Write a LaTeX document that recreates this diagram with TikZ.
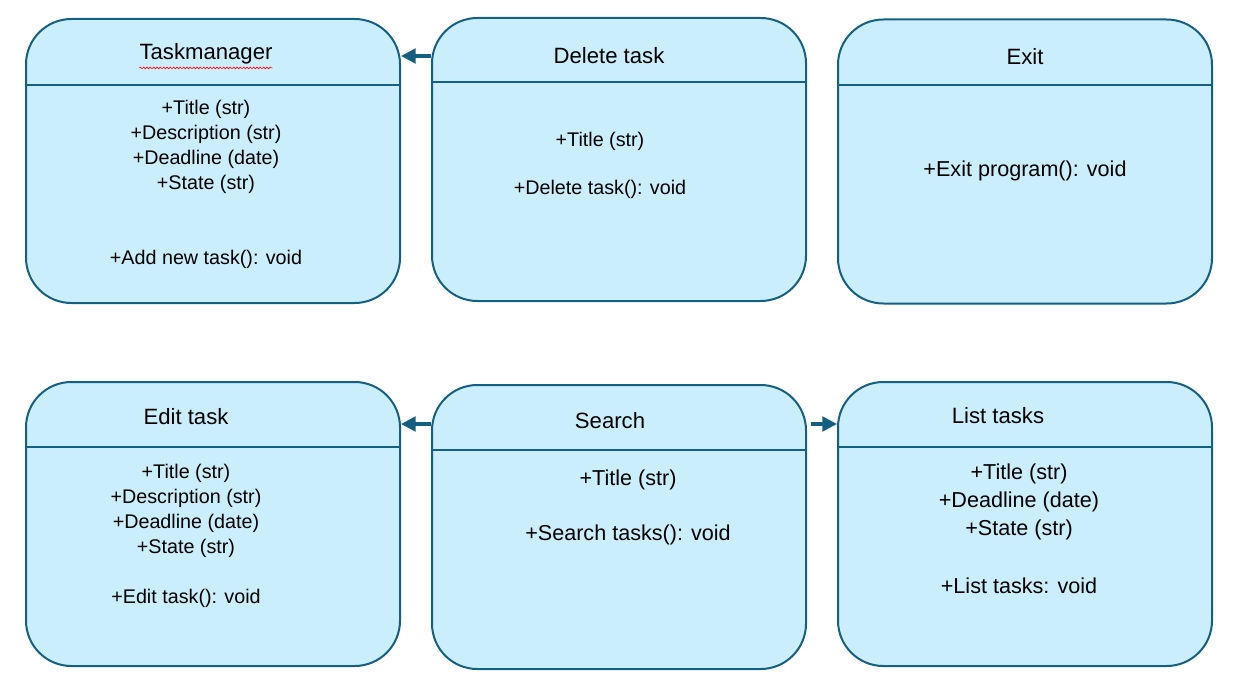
\documentclass[tikz,border=0pt]{standalone}
\usepackage{fontspec}
\setmainfont{Liberation Sans}
\usetikzlibrary{arrows.meta,decorations.pathmorphing}
\definecolor{boxfill}{HTML}{CAEEFB}
\definecolor{boxline}{HTML}{156082}
\begin{document}
\begin{tikzpicture}[x=0.75pt,y=-0.75pt,
  ubox/.style={draw=boxline,fill=boxfill,line width=1.5pt,rounded corners=34pt,
    minimum width=280.5pt,minimum height=213pt,inner sep=0pt},
  hline/.style={draw=boxline,line width=1.5pt},
  ttl/.style={font=\fontsize{16.6}{19}\selectfont,inner sep=0pt,anchor=center},
  sm/.style={font=\fontsize{14.8}{17}\selectfont,inner sep=0pt,anchor=center,yshift=-1.5pt},
  bg/.style={font=\fontsize{16.2}{19}\selectfont,inner sep=0pt,anchor=center,yshift=-1.5pt},
  arr/.style={draw=boxline,line width=2.3pt,-{Triangle[length=11pt,width=11pt]}}]
\useasboundingbox (0,0) rectangle (1233,692);
% boxes
\node[ubox] (tm) at (213,161) {};
\node[ubox,minimum height=212.25pt] (del) at (619,159.5) {};
\node[ubox] (ex) at (1025,161.5) {};
\node[ubox] (ed) at (213,524) {};
\node[ubox] (se) at (619,527) {};
\node[ubox] (li) at (1025,524) {};
% header lines
\draw[hline] (tm.west |- 0,85) -- (tm.east |- 0,85);
\draw[hline] (del.west |- 0,82) -- (del.east |- 0,82);
\draw[hline] (ex.west |- 0,85) -- (ex.east |- 0,85);
\draw[hline] (ed.west |- 0,447) -- (ed.east |- 0,447);
\draw[hline] (se.west |- 0,450) -- (se.east |- 0,450);
\draw[hline] (li.west |- 0,447) -- (li.east |- 0,447);
% Taskmanager
\node[ttl] (tmt) at (206,54) {Taskmanager};
\draw[red,line width=0.5pt,decorate,decoration={snake,amplitude=0.6pt,segment length=2.5pt}]
  ([yshift=-2.5pt]tmt.south west) -- ([yshift=-2.5pt]tmt.south east);
\node[sm] (tm1) at (206,107) {+Title (str)};
\node[sm] (tm2) at (206,132) {+Description (str)};
\node[sm] (tm3) at (206,157) {+Deadline (date)};
\node[sm] (tm4) at (206,182) {+State (str)};
\node[sm] (tm5) at (206,257) {+Add new task(): void};
% Delete task
\node[ttl] (delt) at (609,56) {Delete task};
\node[sm] (del1) at (600,139) {+Title (str)};
\node[sm] (del2) at (600,187) {+Delete task(): void};
% Exit
\node[ttl] (ext) at (1025,57) {Exit};
\node[bg] (ex1) at (1025,169) {+Exit program(): void};
% Edit task
\node[ttl] (edt) at (186,417) {Edit task};
\node[sm] (ed1) at (186,471) {+Title (str)};
\node[sm] (ed2) at (186,496) {+Description (str)};
\node[sm] (ed3) at (186,521) {+Deadline (date)};
\node[sm] (ed4) at (186,546) {+State (str)};
\node[sm] (ed5) at (186,596) {+Edit task(): void};
% Search
\node[ttl] (set) at (610,421) {Search};
\node[bg] (se1) at (628,478) {+Title (str)};
\node[bg] (se2) at (628,533) {+Search tasks(): void};
% List tasks
\node[ttl] (lit) at (998,416) {List tasks};
\node[bg] (li1) at (1019,472) {+Title (str)};
\node[bg] (li2) at (1019,500) {+Deadline (date)};
\node[bg] (li3) at (1019,528) {+State (str)};
\node[bg] (li4) at (1019,584) {+List tasks: void};
% arrows
\draw[arr] (del.west |- 0,56) -- (tm.east |- 0,56);
\draw[arr] (se.west |- 0,424) -- (ed.east |- 0,424);
\draw[arr] ([xshift=3pt]se.east |- 0,424) -- (li.west |- 0,424);
\end{tikzpicture}
\end{document}
